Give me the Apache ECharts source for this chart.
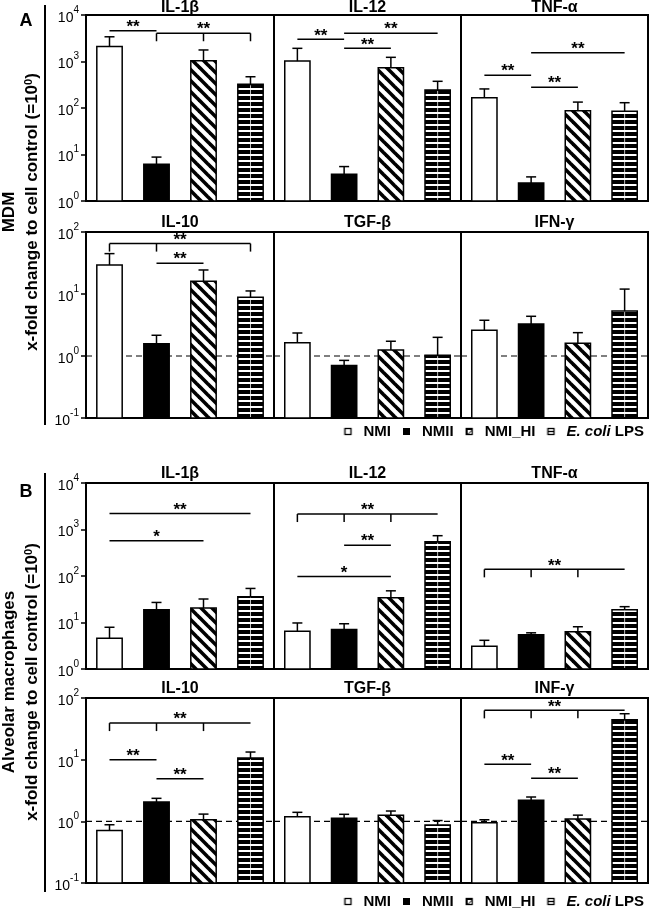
<!DOCTYPE html>
<html><head><meta charset="utf-8">
<script src="https://cdn.jsdelivr.net/npm/echarts@6/dist/echarts.min.js"></script>
<style>html,body{margin:0;padding:0;background:#fff}#c{width:650px;height:910px}</style>
</head><body><div id="c"></div><script>
// ---------------- DATA ----------------
const categories = ['NMI', 'NMII', 'NMI_HI', 'E. coli LPS'];
const titlesA = ['IL-1β', 'IL-12', 'TNF-α', 'IL-10', 'TGF-β', 'IFN-γ'];
const titlesB = ['IL-1β', 'IL-12', 'TNF-α', 'IL-10', 'TGF-β', 'INF-γ'];
const rowLabels = ['MDM', 'Alveolar macrophages'];
const axisTitle = 'x-fold change to cell control (=10{s|0})';
const panelLetters = ['A', 'B'];

// Panel A (MDM): means and upper error bar ends
const A_IL1b = [2090, 6.2, 1040, 323];   const A_IL1b_up = [3400, 8.8, 1770, 470];
const A_IL12 = [1020, 3.75, 737, 244];   const A_IL12_up = [1920, 5.5, 1230, 375];
const A_TNFa = [167, 2.44, 87.6, 85];    const A_TNFa_up = [257, 3.3, 134, 130];
const A_IL10 = [29.4, 1.58, 16, 8.85];   const A_IL10_up = [44.8, 2.16, 24.4, 11.2];
const A_TGFb = [1.64, 0.70, 1.25, 1.03]; const A_TGFb_up = [2.35, 0.85, 1.73, 2.0];
const A_IFNg = [2.6, 3.28, 1.6, 5.3];    const A_IFNg_up = [3.77, 4.37, 2.38, 12];
// Panel B (alveolar macrophages)
const B_IL1b = [4.6, 18.8, 20.5, 35.9];  const B_IL1b_up = [7.9, 27, 32, 54];
const B_IL12 = [6.46, 7.1, 34, 544];     const B_IL12_up = [9.77, 9.4, 48, 736];
const B_TNFa = [3.08, 5.47, 6.3, 18.8];  const B_TNFa_up = [4.14, 6.0, 8.1, 21.9];
const B_IL10 = [0.71, 2.06, 1.06, 10.6]; const B_IL10_up = [0.88, 2.36, 1.31, 13.3];
const B_TGFb = [1.19, 1.12, 1.25, 0.87]; const B_TGFb_up = [1.4, 1.3, 1.47, 1.03];
const B_INFg = [0.95, 2.19, 1.09, 44.5]; const B_INFg_up = [1.06, 2.48, 1.26, 55.6];

// significance brackets: [fromIndex, toIndex, yValue, dropIndices, label]
const A_IL1b_sig = [[0, 1, 4600, [], '**'], [1, 3, 4050, [1, 2, 3], '**']];
const A_IL12_sig = [[0, 1, 3000, [], '**'], [1, 3, 4050, [], '**'], [1, 2, 1920, [], '**']];
const A_TNFa_sig = [[0, 1, 505, [], '**'], [1, 2, 279, [], '**'], [1, 3, 1550, [], '**']];
const A_IL10_sig = [[0, 3, 65, [0, 1, 3], '**'], [1, 2, 31.3, [], '**']];
const A_TGFb_sig = [];
const A_IFNg_sig = [];
const B_IL1b_sig = [[0, 3, 2220, [], '**'], [0, 2, 575, [], '*']];
const B_IL12_sig = [[0, 3, 2150, [0, 1, 2], '**'], [1, 2, 458, [], '**'], [0, 2, 97, [], '*']];
const B_TNFa_sig = [[0, 3, 139, [0, 1, 2], '**']];
const B_IL10_sig = [[0, 3, 39.2, [0, 1, 2], '**'], [0, 1, 10, [], '**'], [1, 2, 4.9, [], '**']];
const B_TGFb_sig = [];
const B_INFg_sig = [[0, 3, 63, [0, 1, 2], '**'], [0, 1, 8.4, [], '**'], [1, 2, 5.0, [], '**']];

const topRange = [1, 10000];
const bottomRange = [0.1, 100];
const refValue = 1;

// ---------------- LAYOUT / STYLE ----------------
const FONT = '"Liberation Sans", Arial, Helvetica, sans-serif';
const rowsGeom = [
  {top: 15, h: 186, range: topRange, ref: false, titleY: 8},
  {top: 232, h: 186, range: bottomRange, ref: true, titleY: 223},
  {top: 483, h: 186, range: topRange, ref: false, titleY: 474},
  {top: 698, h: 185, range: bottomRange, ref: true, titleY: 689}
];
const colsGeom = [{left: 86, w: 188}, {left: 274, w: 187}, {left: 461, w: 187}];

function makeCanvas(w, h, draw) { const c = document.createElement('canvas'); c.width = w; c.height = h; draw(c.getContext('2d')); return c; }
const diagCanvas = makeCanvas(11, 11, x => {
  x.fillStyle = '#fff'; x.fillRect(0, 0, 11, 11);
  x.strokeStyle = '#000'; x.lineWidth = 3.6;
  for (let k = -2; k <= 2; k++) { x.beginPath(); x.moveTo(k * 11 - 2, -2); x.lineTo(k * 11 + 13, 13); x.stroke(); }
});
const horizCanvas = makeCanvas(8, 6, x => { x.fillStyle = '#fff'; x.fillRect(0, 0, 8, 6); x.fillStyle = '#000'; x.fillRect(0, 0, 8, 4); });
const fills = ['#ffffff', '#000000', {image: diagCanvas, repeat: 'repeat'}, {image: horizCanvas, repeat: 'repeat'}];

function iconURL(kind) {
  return 'image://' + makeCanvas(15, 9, x => {
    x.lineWidth = 1.3; x.strokeStyle = '#000';
    if (kind === 1) { x.fillStyle = '#000'; x.fillRect(1, 1, 7, 7); return; }
    x.fillStyle = '#fff'; x.fillRect(1, 1, 7, 7);
    if (kind === 2) { x.fillStyle = '#000'; x.beginPath(); x.moveTo(1, 1); x.lineTo(8, 1); x.lineTo(8, 3); x.lineTo(3, 8); x.lineTo(1, 8); x.closePath(); x.fill(); x.fillStyle = '#fff'; x.beginPath(); x.moveTo(3, 3); x.lineTo(7, 3); x.lineTo(3, 7); x.closePath(); x.fill(); }
    if (kind === 3) { x.beginPath(); x.moveTo(1, 4.5); x.lineTo(8, 4.5); x.stroke(); }
    x.strokeRect(1.5, 1.5, 6, 6);
  }).toDataURL();
}

const panelsA = [
  [A_IL1b, A_IL1b_up, A_IL1b_sig], [A_IL12, A_IL12_up, A_IL12_sig], [A_TNFa, A_TNFa_up, A_TNFa_sig],
  [A_IL10, A_IL10_up, A_IL10_sig], [A_TGFb, A_TGFb_up, A_TGFb_sig], [A_IFNg, A_IFNg_up, A_IFNg_sig]
];
const panelsB = [
  [B_IL1b, B_IL1b_up, B_IL1b_sig], [B_IL12, B_IL12_up, B_IL12_sig], [B_TNFa, B_TNFa_up, B_TNFa_sig],
  [B_IL10, B_IL10_up, B_IL10_sig], [B_TGFb, B_TGFb_up, B_TGFb_sig], [B_INFg, B_INFg_up, B_INFg_sig]
];
const allPanels = panelsA.concat(panelsB);
const allTitles = titlesA.concat(titlesB);

const grids = [], xAxes = [], yAxes = [], series = [], graphics = [];

function barRender(kind) {
  return function (params, api) {
    const i = api.value(0), v = api.value(1);
    const p = api.coord([i, v]);
    const cs = params.coordSys;
    const bw = (api.coord([1, v])[0] - api.coord([0, v])[0]) * 0.54;
    const base = cs.y + cs.height;
    const children = [{type: 'rect', shape: {x: p[0] - bw / 2, y: p[1], width: bw, height: base - p[1]},
      style: {fill: fills[kind], stroke: '#000', lineWidth: 1.5}}];
    if (kind === 3) children.push({type: 'line', shape: {x1: p[0], y1: p[1] + 1, x2: p[0], y2: base - 1}, style: {stroke: 'rgba(255,255,255,0.75)', lineWidth: 1}});
    return {type: 'group', children};
  };
}

function errRender(params, api) {
  const i = api.value(0);
  const p1 = api.coord([i, api.value(1)]);
  const p2 = api.coord([i, api.value(2)]);
  return {type: 'group', children: [
    {type: 'line', shape: {x1: p1[0], y1: p1[1], x2: p2[0], y2: p2[1]}, style: {stroke: '#000', lineWidth: 1.5}},
    {type: 'line', shape: {x1: p2[0] - 5, y1: p2[1], x2: p2[0] + 5, y2: p2[1]}, style: {stroke: '#000', lineWidth: 1.5}}
  ]};
}

function sigRender(defs) {
  return function (params, api) {
    const d = defs[params.dataIndex];
    const a = api.coord([d[0], d[2]]), b = api.coord([d[1], d[2]]);
    const y = a[1];
    const ch = [{type: 'line', shape: {x1: a[0], y1: y, x2: b[0], y2: y}, style: {stroke: '#000', lineWidth: 1.5}}];
    d[3].forEach(k => { const x = api.coord([k, d[2]])[0]; ch.push({type: 'line', shape: {x1: x, y1: y, x2: x, y2: y + 8}, style: {stroke: '#000', lineWidth: 1.5}}); });
    ch.push({type: 'text', x: (a[0] + b[0]) / 2, y: y + 5, style: {text: d[4], fill: '#000', font: 'bold 17px ' + FONT, align: 'center', verticalAlign: 'bottom'}});
    return {type: 'group', children: ch};
  };
}

function refRender(params, api) {
  const cs = params.coordSys;
  const y = api.coord([0, api.value(1)])[1];
  return {type: 'line', shape: {x1: cs.x, y1: y, x2: cs.x + cs.width, y2: y}, style: {stroke: '#000', lineWidth: 1.2, lineDash: [6, 4]}};
}

for (let r = 0; r < 4; r++) {
  for (let c = 0; c < 3; c++) {
    const g = r * 3 + c;
    const row = rowsGeom[r], col = colsGeom[c];
    const [means, ups, sig] = allPanels[g];
    grids.push({left: col.left, top: row.top, width: col.w, height: row.h, show: true, borderColor: '#000', borderWidth: 2,
      backgroundColor: 'transparent', containLabel: false, outerBoundsMode: 'none'});
    xAxes.push({type: 'category', gridIndex: g, data: categories, axisLine: {show: false}, axisTick: {show: false}, axisLabel: {show: false}, splitLine: {show: false}});
    const first = c === 0;
    yAxes.push({type: 'log', logBase: 10, gridIndex: g, min: row.range[0], max: row.range[1],
      axisLine: {show: first, lineStyle: {color: '#000', width: 2}},
      axisTick: {show: first, length: 5, lineStyle: {color: '#000', width: 1.5}},
      minorTick: {show: false}, splitLine: {show: false},
      axisLabel: {show: first, margin: 7, color: '#000',
        formatter: v => '{b|10}{s|' + Math.round(Math.log10(v)) + '}',
        rich: {b: {fontSize: 14, lineHeight: 20, verticalAlign: 'bottom', fontFamily: FONT, color: '#000'},
               s: {fontSize: 10, lineHeight: 10, verticalAlign: 'top', fontFamily: FONT, color: '#000'}}}
    });
    if (row.ref) {
      series.push({type: 'custom', name: 'ref', xAxisIndex: g, yAxisIndex: g, data: [[0, refValue]], renderItem: refRender, z: 1, silent: true, clip: false});
    }
    for (let k = 0; k < 4; k++) {
      series.push({type: 'custom', name: categories[k], xAxisIndex: g, yAxisIndex: g, z: 2, silent: true,
        itemStyle: {color: fills[k], borderColor: '#000', borderWidth: 1},
        data: [[k, means[k]]], renderItem: barRender(k)});
    }
    series.push({type: 'custom', name: 'err', xAxisIndex: g, yAxisIndex: g, z: 3, silent: true, clip: false,
      encode: {x: 0, y: [1, 2]}, data: means.map((m, i) => [i, m, ups[i]]), renderItem: errRender});
    if (sig.length) {
      series.push({type: 'custom', name: 'sig', xAxisIndex: g, yAxisIndex: g, z: 4, silent: true, clip: false,
        encode: {x: 0, y: 2}, data: sig.map(d => [d[0], d[1], d[2]]), renderItem: sigRender(sig)});
    }
    graphics.push({type: 'text', x: col.left + col.w / 2, y: row.titleY,
      style: {text: allTitles[g], font: 'bold 16px ' + FONT, fill: '#000', align: 'center', verticalAlign: 'middle'}});
  }
}

// left annotations
[[5, 425, 212, 'A', 21, 0], [473, 892, 682, 'B', 492, 1]].forEach(([y1, y2, cy, letter, ly, idx]) => {
  graphics.push({type: 'line', shape: {x1: 45, y1: y1, x2: 45, y2: y2}, style: {stroke: '#000', lineWidth: 2}});
  graphics.push({type: 'text', x: 26, y: ly, style: {text: letter, font: 'bold 18px ' + FONT, fill: '#000', align: 'center', verticalAlign: 'middle'}});
  graphics.push({type: 'text', x: 9, y: cy, rotation: Math.PI / 2,
    style: {text: rowLabels[idx], font: 'bold 17px ' + FONT, fill: '#000', align: 'center', verticalAlign: 'middle'}});
  graphics.push({type: 'text', x: 32, y: cy, rotation: Math.PI / 2,
    style: {text: axisTitle, fill: '#000', align: 'center', verticalAlign: 'middle', fontSize: 17, fontWeight: 'bold', fontFamily: FONT,
      rich: {s: {fontSize: 11, fontWeight: 'bold', fontFamily: FONT, verticalAlign: 'top', lineHeight: 10}}}});
});

const legendData = categories.map((n, k) => ({name: n, icon: iconURL(k)}));
function legendCfg(top) {
  return {data: legendData, right: 6, top: top, orient: 'horizontal', itemWidth: 15, itemHeight: 9, itemGap: 11, selectedMode: false, padding: 0,
    formatter: n => n === 'E. coli LPS' ? '{i|E. coli} {b|LPS}' : '{b|' + n + '}',
    textStyle: {color: '#000', fontSize: 15, fontWeight: 'bold', fontFamily: FONT,
      rich: {i: {fontStyle: 'italic', fontWeight: 'bold', fontSize: 15, fontFamily: FONT, color: '#000'},
             b: {fontWeight: 'bold', fontSize: 15, fontFamily: FONT, color: '#000'}}}};
}

const chart = echarts.init(document.getElementById('c'), null, {renderer: 'canvas'});
chart.setOption({
  animation: false,
  backgroundColor: '#fff',
  textStyle: {fontFamily: FONT},
  grid: grids, xAxis: xAxes, yAxis: yAxes, series: series,
  legend: [legendCfg(424), legendCfg(894)],
  graphic: graphics
});
</script></body></html>
